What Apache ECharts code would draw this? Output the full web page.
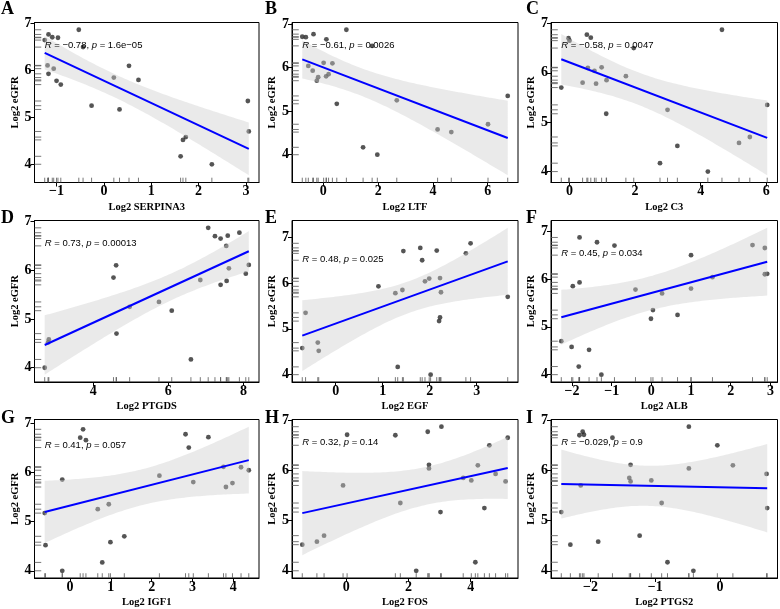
<!DOCTYPE html>
<html><head><meta charset="utf-8">
<script src="https://cdn.jsdelivr.net/npm/echarts@6/dist/echarts.min.js"></script>
<style>html,body{margin:0;padding:0;background:#fff}#c{width:780px;height:609px}</style>
</head><body><div id="c"></div>
<script>
// ---------- text ----------
const panelLetters = ['A','B','C','D','E','F','G','H','I'];
const xTitles = ['Log2 SERPINA3','Log2 LTF','Log2 C3','Log2 PTGDS','Log2 EGF','Log2 ALB','Log2 IGF1','Log2 FOS','Log2 PTGS2'];
const yTitle = 'Log2 eGFR';
const statR = ['−0.78','−0.61','−0.58','0.73','0.48','0.45','0.41','0.32','−0.029'];
const statP = ['1.6e−05','0.0026','0.0047','0.00013','0.025','0.034','0.057','0.14','0.9'];
const xTicks = [[-1,0,1,2,3],[0,2,4,6],[0,2,4,6],[4,6,8],[0,1,2,3],[-2,-1,0,1,2,3],[0,1,2,3,4],[0,2,4],[-2,-1,0]];
const yTicks = [4,5,6,7];

// ---------- data (x = gene log2 expression, y = log2 eGFR) ----------
const xSERPINA3 = [-1.25,-1.17,-1.09,-0.97,-0.53,-0.44,-1.19,-1.06,-1.17,-1.00,-0.91,-0.26,0.21,0.33,0.53,0.73,1.62,1.67,1.73,2.28,3.04,3.06];
const ySERPINA3 = [6.65,6.77,6.71,6.70,6.87,6.50,6.11,6.04,5.93,5.78,5.70,5.25,5.85,5.17,6.10,5.80,4.17,4.52,4.58,4.00,5.35,4.70];
const xLTF = [-0.77,-0.64,-0.36,0.11,0.84,1.78,-0.55,-0.39,-0.24,-0.19,0.01,0.10,0.19,0.33,0.49,1.45,1.97,2.68,4.17,4.67,6.01,6.73];
const yLTF = [6.71,6.70,6.77,6.65,6.87,6.50,6.04,5.93,5.70,5.78,6.11,5.80,5.85,6.10,5.17,4.17,4.00,5.25,4.58,4.52,4.70,5.35];
const xC3 = [-0.25,-0.03,0.00,0.53,0.65,0.40,0.56,0.76,0.81,0.98,1.13,1.12,1.72,2.99,2.76,3.29,4.22,4.65,5.17,5.50,6.03,1.96];
const yC3 = [5.70,6.70,6.65,6.77,6.71,5.80,6.10,6.04,5.78,6.11,5.85,5.17,5.93,5.25,4.17,4.52,4.00,6.87,4.58,4.70,5.35,6.50];
const xPTGDS = [2.71,2.82,2.80,4.54,4.61,4.62,4.97,5.75,6.09,6.60,6.85,7.06,7.24,7.39,7.58,7.54,7.39,7.55,7.61,7.89,8.06,8.14];
const yPTGDS = [4.00,4.58,4.52,5.85,6.10,4.70,5.25,5.35,5.17,4.17,5.80,6.87,6.70,6.65,6.71,6.50,5.70,5.78,6.04,6.77,5.93,6.11];
const xEGF = [-0.71,-0.64,-0.38,-0.36,0.91,1.27,1.42,1.44,1.32,1.80,1.84,1.90,1.99,2.02,2.15,2.22,2.24,2.22,2.20,2.77,2.87,3.66];
const yEGF = [4.58,5.35,4.70,4.52,5.93,5.78,5.85,6.70,4.17,6.77,6.50,6.04,6.10,4.00,6.71,6.11,5.80,5.25,5.17,6.65,6.87,5.70];
const xALB = [-2.27,-2.01,-1.98,-1.81,-1.81,-1.83,-1.57,-1.37,-1.26,-0.93,-0.40,-0.01,0.04,0.27,0.66,1.00,1.00,1.54,2.55,2.86,2.86,2.92];
const yALB = [4.70,4.58,5.85,6.87,5.93,4.17,4.52,6.77,4.00,6.70,5.78,5.17,5.35,5.70,5.25,6.50,5.80,6.04,6.71,6.65,6.10,6.11];
const xIGF1 = [-0.62,-0.60,-0.19,-0.19,0.25,0.32,0.39,0.68,0.79,0.95,0.99,1.33,2.19,2.83,2.91,3.02,3.39,3.76,3.82,3.98,4.19,4.38];
const yIGF1 = [5.17,4.52,5.85,4.00,6.70,6.87,6.65,5.25,4.17,5.35,4.58,4.70,5.93,6.77,6.50,5.80,6.71,6.11,5.70,5.78,6.10,6.04];
const xFOS = [-1.41,-0.94,-0.71,-0.10,0.03,1.58,1.74,2.25,2.62,2.66,2.66,3.03,3.06,3.76,4.02,4.15,4.23,4.44,4.60,4.80,5.12,5.19];
const yFOS = [4.52,4.58,4.70,5.70,6.71,6.70,5.35,4.00,6.77,6.11,6.04,5.17,6.87,5.85,5.80,4.17,6.10,5.25,6.50,5.93,5.78,6.65];
const xPTGS2 = [-2.45,-2.31,-2.17,-2.12,-2.10,-2.15,-1.88,-1.66,-1.40,-1.38,-1.38,-1.24,-1.06,-0.90,-0.81,-0.48,-0.48,-0.41,-0.04,0.20,0.72,0.73];
const yPTGS2 = [5.17,4.52,6.70,6.77,6.71,5.70,4.58,6.65,5.85,6.11,5.78,4.70,5.80,5.35,4.17,6.87,6.04,4.00,6.50,6.10,5.93,5.25];

const xs = [xSERPINA3,xLTF,xC3,xPTGDS,xEGF,xALB,xIGF1,xFOS,xPTGS2];
const ys = [ySERPINA3,yLTF,yC3,yPTGDS,yEGF,yALB,yIGF1,yFOS,yPTGS2];

// ---------- layout ----------
const colLeft = [34.5, 292, 551], colRight = [259, 518, 777.5];
const rowTop = [22.5, 220.5, 419.5], rowBottom = [182.5, 382, 578];
const letterLeft = [1, 265, 526], letterTop = [0, 209, 409];
const SERIF = "'Liberation Serif','DejaVu Serif',serif";
const SANS = "'Liberation Sans','DejaVu Sans',sans-serif";

// linear model fit with 95% confidence band (as geom_smooth(method = 'lm'))
const T975 = 2.085963; // t quantile, df = 20
function lmFit(x, y) {
  const n = x.length;
  const mx = x.reduce((a,b)=>a+b,0)/n, my = y.reduce((a,b)=>a+b,0)/n;
  let sxx=0, sxy=0;
  for (let i=0;i<n;i++){ sxx+=(x[i]-mx)**2; sxy+=(x[i]-mx)*(y[i]-my); }
  const b = sxy/sxx, a = my - b*mx;
  let rss=0; for (let i=0;i<n;i++) rss += (y[i]-a-b*x[i])**2;
  const s = Math.sqrt(rss/(n-2));
  const xmin = Math.min(...x), xmax = Math.max(...x);
  const band = [];
  const N = 80;
  for (let k=0;k<N;k++){
    const xv = xmin + (xmax-xmin)*k/(N-1);
    const yh = a + b*xv;
    const w = T975*s*Math.sqrt(1/n + (xv-mx)**2/sxx);
    band.push([xv, yh-w, yh+w]);
  }
  return {a, b, xmin, xmax, band};
}

const option = { animation:false, backgroundColor:'#fff', title:[], grid:[], xAxis:[], yAxis:[], series:[] };

for (let i=0;i<9;i++){
  const r = Math.floor(i/3), c = i%3;
  const x = xs[i], y = ys[i];
  const f = lmFit(x, y);
  const xr = f.xmax - f.xmin;
  const ylo = Math.min(...y, ...f.band.map(d=>d[1]));
  const yhi = Math.max(...y, ...f.band.map(d=>d[2]));
  const yr = yhi - ylo;
  const ymaxData = Math.max(...y);

  option.title.push({text: panelLetters[i], left: letterLeft[c], top: letterTop[r], padding:0,
    textStyle:{fontFamily:SERIF, fontWeight:'bold', fontSize:18, lineHeight:18, color:'#000'}});

  option.grid.push({left: colLeft[c], top: rowTop[r], width: colRight[c]-colLeft[c], height: rowBottom[r]-rowTop[r],
    show:true, borderColor:'#000', borderWidth:1, backgroundColor:'rgba(0,0,0,0)', containLabel:false, outerBoundsMode:'none'});

  option.xAxis.push({gridIndex:i, type:'value', min: f.xmin-0.05*xr, max: f.xmax+0.05*xr,
    splitLine:{show:false},
    axisLine:{show:true, onZero:false, lineStyle:{color:'#000', width:1}},
    axisTick:{show:true, length:4, customValues:xTicks[i], lineStyle:{color:'#000', width:1}},
    axisLabel:{customValues:xTicks[i], formatter: v=>String(v).replace('-','−'), fontFamily:SERIF, fontWeight:'bold', fontSize:14, color:'#000', margin:2},
    name: xTitles[i], nameLocation:'middle', nameGap:19,
    nameTextStyle:{fontFamily:SERIF, fontWeight:'bold', fontSize:10.5, color:'#000'}});

  option.yAxis.push({gridIndex:i, type:'value', min: ylo-0.05*yr, max: yhi+0.05*yr,
    splitLine:{show:false},
    axisLine:{show:true, onZero:false, lineStyle:{color:'#000', width:1}},
    axisTick:{show:true, length:4, customValues:yTicks, lineStyle:{color:'#000', width:1}},
    axisLabel:{customValues:yTicks, fontFamily:SERIF, fontWeight:'bold', fontSize:14, color:'#000', margin:3},
    name: yTitle, nameLocation:'middle', nameGap:13, nameRotate:90,
    nameTextStyle:{fontFamily:SERIF, fontWeight:'bold', fontSize:10.5, color:'#000'}});

  const pts = x.map((v,k)=>[v, y[k]]);

  // rugs
  option.series.push({type:'custom', xAxisIndex:i, yAxisIndex:i, z:1, silent:true, data: pts,
    renderItem:(params, api)=>{
      const cs = params.coordSys;
      const p = api.coord([api.value(0), api.value(1)]);
      const bottom = cs.y + cs.height, left = cs.x;
      return {type:'group', children:[
        {type:'line', shape:{x1:p[0], y1:bottom, x2:p[0], y2:bottom-0.03*cs.height}, style:{stroke:'#555', lineWidth:0.8}},
        {type:'line', shape:{x1:left, y1:p[1], x2:left+0.03*cs.width, y2:p[1]}, style:{stroke:'#555', lineWidth:0.8}}
      ]};
    }});

  // points
  option.series.push({type:'scatter', xAxisIndex:i, yAxisIndex:i, z:2, data: pts, symbol:'circle', symbolSize:4.8,
    itemStyle:{color:'#2a2a2a'}, silent:true});

  // confidence band
  const band = f.band;
  option.series.push({type:'custom', xAxisIndex:i, yAxisIndex:i, z:3, silent:true, data:[[band[0][0], band[0][1]]],
    renderItem:(params, api)=>{
      const up = band.map(d=>api.coord([d[0], d[2]]));
      const lo = band.map(d=>api.coord([d[0], d[1]])).reverse();
      return {type:'polygon', shape:{points: up.concat(lo)}, style:{fill:'rgba(205,205,205,0.42)', stroke:'none'}};
    }});

  // regression line
  option.series.push({type:'line', xAxisIndex:i, yAxisIndex:i, z:4, silent:true, symbol:'none',
    data:[[f.xmin, f.a+f.b*f.xmin],[f.xmax, f.a+f.b*f.xmax]],
    lineStyle:{color:'#0000FF', width:2}});

  // correlation label
  const txt = '{i|R} = ' + statR[i] + ', {i|p} = ' + statP[i];
  option.series.push({type:'custom', xAxisIndex:i, yAxisIndex:i, z:5, silent:true, data:[[f.xmin, ymaxData]],
    renderItem:(params, api)=>{
      const p = api.coord([api.value(0), api.value(1)]);
      return {type:'text', x:p[0], y:p[1]+16, style:{text:txt, fontFamily:SANS, fontSize:9.5, fill:'#000',
        align:'left', verticalAlign:'middle',
        rich:{i:{fontFamily:SANS, fontSize:9.5, fontStyle:'italic', fill:'#000'}}}};
    }});
}

const chart = echarts.init(document.getElementById('c'), null, {renderer:'canvas'});
chart.setOption(option);
</script></body></html>
